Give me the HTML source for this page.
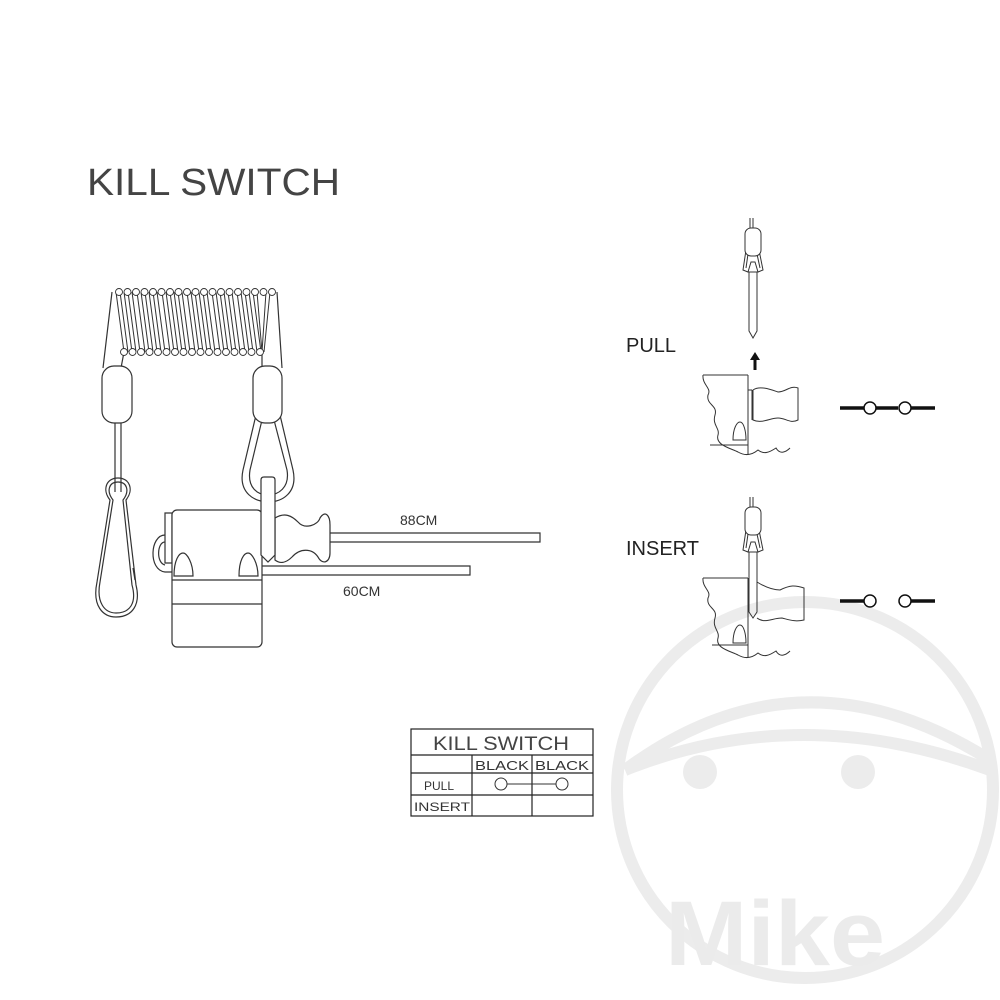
<!DOCTYPE html>
<html><head><style>html,body{margin:0;padding:0;background:#fff}svg{display:block}</style></head>
<body>
<svg width="1000" height="1000" viewBox="0 0 1000 1000" xmlns="http://www.w3.org/2000/svg" font-family="Liberation Sans, sans-serif">
<!-- watermark -->
<g fill="none" stroke="#ececec" stroke-width="12">
<circle cx="805" cy="790" r="188"/>
<path d="M625 770 Q800 640 990 760"/>
<path d="M625 770 Q800 700 990 770"/>
</g>
<circle cx="700" cy="772" r="17" fill="#ececec"/>
<circle cx="858" cy="772" r="17" fill="#ececec"/>
<text x="665" y="965" font-size="92" font-weight="bold" fill="#ebebeb" textLength="220" lengthAdjust="spacingAndGlyphs">Mike</text>

<text x="87" y="195" font-size="38" fill="#444" textLength="253" lengthAdjust="spacingAndGlyphs">KILL SWITCH</text>

<g fill="none" stroke="#333" stroke-width="1.2">
<path d="M103 368 L112 292 M121 368 L124 352"/>
<path d="M282 368 L277 292 M262 368 L262 352"/>
<g stroke-width="1">
<path d="M116 292 L124 352 M124 292 L132 352 M132 292 L140 352 M141 292 L149 352 M149 292 L157 352 M157 292 L165 352 M166 292 L174 352 M174 292 L182 352 M182 292 L190 352 M191 292 L199 352 M199 292 L207 352 M207 292 L215 352 M216 292 L224 352 M224 292 L232 352 M232 292 L240 352 M241 292 L249 352 M249 292 L257 352 M257 292 L262 352 M266 292 L262 352"/>
<path d="M120 292 L128 352 M128 292 L136 352 M137 292 L145 352 M145 292 L153 352 M153 292 L161 352 M162 292 L170 352 M170 292 L178 352 M178 292 L186 352 M187 292 L195 352 M195 292 L203 352 M203 292 L211 352 M212 292 L220 352 M220 292 L228 352 M228 292 L236 352 M237 292 L245 352 M245 292 L253 352 M253 292 L261 352 M270 292 L264 352"/>
</g>
<g fill="#fff" stroke-width="0.9">
<circle cx="119" cy="292" r="3.5"/><circle cx="127.5" cy="292" r="3.5"/><circle cx="136" cy="292" r="3.5"/><circle cx="144.5" cy="292" r="3.5"/><circle cx="153" cy="292" r="3.5"/><circle cx="161.5" cy="292" r="3.5"/><circle cx="170" cy="292" r="3.5"/><circle cx="178.5" cy="292" r="3.5"/><circle cx="187" cy="292" r="3.5"/><circle cx="195.5" cy="292" r="3.5"/><circle cx="204" cy="292" r="3.5"/><circle cx="212.5" cy="292" r="3.5"/><circle cx="221" cy="292" r="3.5"/><circle cx="229.5" cy="292" r="3.5"/><circle cx="238" cy="292" r="3.5"/><circle cx="246.5" cy="292" r="3.5"/><circle cx="255" cy="292" r="3.5"/><circle cx="263.5" cy="292" r="3.5"/><circle cx="272" cy="292" r="3.5"/>
<circle cx="124" cy="352" r="3.5"/><circle cx="132.5" cy="352" r="3.5"/><circle cx="141" cy="352" r="3.5"/><circle cx="149.5" cy="352" r="3.5"/><circle cx="158" cy="352" r="3.5"/><circle cx="166.5" cy="352" r="3.5"/><circle cx="175" cy="352" r="3.5"/><circle cx="183.5" cy="352" r="3.5"/><circle cx="192" cy="352" r="3.5"/><circle cx="200.5" cy="352" r="3.5"/><circle cx="209" cy="352" r="3.5"/><circle cx="217.5" cy="352" r="3.5"/><circle cx="226" cy="352" r="3.5"/><circle cx="234.5" cy="352" r="3.5"/><circle cx="243" cy="352" r="3.5"/><circle cx="251.5" cy="352" r="3.5"/><circle cx="260" cy="352" r="3.5"/>
</g>
<!-- left sleeve & wire & clip -->
<rect x="102" y="366" width="30" height="57" rx="12" fill="#fff"/>
<path d="M115 423 V492 M121 423 V492"/>
<path d="M118 478 C106 478 102 490 110 500 L97 582 C92 606 103 617 116 617 C132 617 141 605 136 585 L126 500 C134 490 130 478 118 478 Z"/>
<path d="M118 482 C109 482 106 491 113 500 L100 582 C96 603 105 613 116 613 C130 613 137 603 132 585 L123 500 C130 491 127 482 118 482 Z"/>
<path d="M133 568 L135 580"/>
<!-- right sleeve & triangle loop -->
<path d="M256 415 L243 470 C238 493 255 502 268 502 C282 502 298 493 293 470 L280 415"/>
<path d="M262 420 L250 470 C247 488 258 495 268 495 C278 495 290 488 287 470 L274 420"/>
<rect x="253" y="366" width="29" height="57" rx="12" fill="#fff"/>
<!-- body -->
<path d="M165 513 H172 V563 H165 Z"/>
<path d="M165 535 C150 535 148 570 165 572 H172 M165 542 C157 542 156 563 165 565"/>
<rect x="172" y="510" width="90" height="137" rx="5" fill="#fff"/>
<path d="M172 580 H262 M172 604 H262"/>
<path d="M174 576 C174 560 179 553 183 553 C187 553 193 563 193 576 Z"/>
<path d="M239 576 C239 560 244 553 248 553 C252 553 258 563 258 576 Z"/>
<path d="M330 533 H540 V542 H330 M262 566 H470 V575 H262"/>
<path d="M275 518 C285 512 292 516 298 522 C305 530 318 525 320 518 C325 510 330 515 330 525 V553 C330 563 322 565 318 557 C312 548 300 548 292 557 C286 563 280 564 275 560 Z" fill="#fff"/>
<path d="M261 480 Q261 477 264 477 H272 Q275 477 275 480 V555 L268 562 L261 555 Z" fill="#fff"/>
</g>
<text x="400" y="525" font-size="14" fill="#333">88CM</text>
<text x="343" y="596" font-size="14" fill="#333">60CM</text>

<text x="626" y="352" font-size="20" fill="#222">PULL</text>
<text x="626" y="555" font-size="20" fill="#222">INSERT</text>
<g fill="none" stroke="#333" stroke-width="1">
<path d="M750 218 V230 M753 218 V230"/>
<path d="M746 250 L743 270 L748 272 M759 250 L763 270 L758 272 M748 254 L746 268 M757 254 L760 268"/>
<rect x="745" y="228" width="16" height="28" rx="6" fill="#fff"/>
<path d="M748 272 H758 L755 262 H751 Z"/>
<path d="M749 272 V331 L753 338 L757 331 V272"/>
<path d="M703 375 H748 M748 375 V455 M748 390 H752 M752 390 V420 M710 445 H748"/>
<path d="M703 375 C702 385 712 388 708 395 C706 405 718 405 715 415 C712 425 720 428 718 435 C715 445 730 448 738 452 C745 456 752 455 758 450 C764 455 770 452 776 448 C780 455 786 452 790 448"/>
<path d="M753 390 C760 385 772 390 778 392 C786 392 790 385 798 388 V420 C790 424 786 418 778 418 C770 418 762 424 753 420 Z"/>
<path d="M733 440 C733 428 737 422 740 422 C744 422 746 432 746 440 Z"/>
<path d="M750 497 V509 M753 497 V509"/>
<path d="M746 530 L743 550 L748 552 M759 530 L763 550 L758 552 M748 534 L746 548 M757 534 L760 548"/>
<rect x="745" y="507" width="16" height="28" rx="6" fill="#fff"/>
<path d="M748 552 H758 L755 542 H751 Z"/>
<path d="M749 552 V612 L753 618 L757 612 V552"/>
<path d="M703 578 H748 M748 578 V657 M712 645 H748"/>
<path d="M703 578 C702 588 712 591 708 598 C706 608 718 608 715 618 C712 628 720 631 718 638 C715 648 730 651 738 655 C745 659 752 658 758 653 C764 658 770 655 776 651 C780 658 786 655 790 651"/>
<path d="M757 582 C765 587 772 590 780 590 C790 585 795 585 804 588 V620 C795 622 790 620 782 618 C772 618 765 624 757 618"/>
<path d="M733 643 C733 631 737 625 740 625 C744 625 746 635 746 643 Z"/>
</g>
<path d="M755 352 L750 360 H753.5 V370 H756.5 V360 H760 Z" fill="#111"/>
<g stroke="#111" stroke-width="3.5" fill="none">
<path d="M840 408 H864 M876 408 H898 M911 408 H935"/>
<path d="M840 601 H864 M911 601 H935"/>
</g>
<g stroke="#111" stroke-width="1.5" fill="#fff">
<circle cx="870" cy="408" r="6"/><circle cx="905" cy="408" r="6"/>
<circle cx="870" cy="601" r="6"/><circle cx="905" cy="601" r="6"/>
</g>

<g fill="none" stroke="#222" stroke-width="1.2">
<rect x="411" y="729" width="182" height="87"/>
<path d="M411 755 H593 M411 773 H593 M411 795 H593 M472 755 V816 M532 755 V816"/>
</g>
<text x="433" y="750" font-size="19" fill="#444" textLength="136" lengthAdjust="spacingAndGlyphs">KILL SWITCH</text>
<text x="475" y="770" font-size="13" fill="#333" textLength="54" lengthAdjust="spacingAndGlyphs">BLACK</text>
<text x="535" y="770" font-size="13" fill="#333" textLength="54" lengthAdjust="spacingAndGlyphs">BLACK</text>
<text x="424" y="790" font-size="12" fill="#333">PULL</text>
<text x="414" y="811" font-size="12" fill="#333" textLength="56" lengthAdjust="spacingAndGlyphs">INSERT</text>
<path d="M507 784 H557" stroke="#333" stroke-width="1"/>
<circle cx="501" cy="784" r="6" fill="#fff" stroke="#333"/>
<circle cx="562" cy="784" r="6" fill="#fff" stroke="#333"/>
</svg>
</body></html>
